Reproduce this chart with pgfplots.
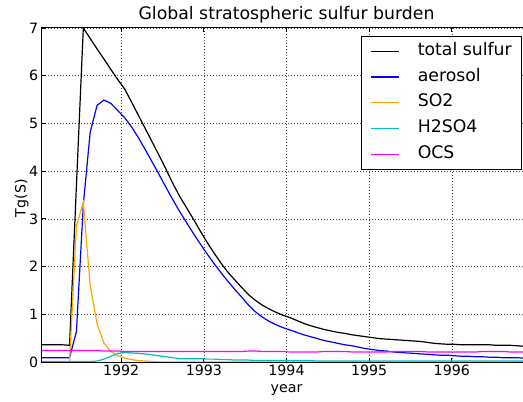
\documentclass[border=0pt]{standalone}
\usepackage{fontspec}
\setmainfont{DejaVu Sans}
\usepackage{pgfplots}
\usepackage{pgfplotstable}
\pgfplotsset{compat=1.18}
\definecolor{mplblue}{rgb}{0,0,1}
\definecolor{mplorange}{RGB}{255,165,0}
\definecolor{mplcyan}{rgb}{0,0.75,0.75}
\definecolor{mplmag}{rgb}{1,0,1}

\pgfplotstableread{
x total aer so2 h2so4 ocs
1991.0417 0.36 0.09 0.00 0.01 0.24
1991.1250 0.36 0.09 0.00 0.01 0.24
1991.2083 0.36 0.09 0.00 0.01 0.24
1991.2917 0.36 0.09 0.00 0.01 0.24
1991.3750 0.35 0.09 0.00 0.01 0.24
1991.4583 3.70 0.64 2.85 0.01 0.24
1991.5417 7.00 3.30 3.35 0.01 0.24
1991.6250 6.78 4.82 1.60 0.01 0.24
1991.7083 6.56 5.38 0.80 0.02 0.24
1991.7917 6.35 5.49 0.40 0.06 0.23
1991.8750 6.13 5.42 0.22 0.12 0.23
1991.9583 5.92 5.27 0.13 0.18 0.23
1992.0417 5.72 5.12 0.08 0.20 0.22
1992.1250 5.45 4.93 0.05 0.19 0.22
1992.2083 5.17 4.70 0.03 0.18 0.22
1992.2917 4.89 4.45 0.02 0.17 0.22
1992.3750 4.61 4.19 0.01 0.15 0.22
1992.4583 4.33 3.93 0.00 0.13 0.22
1992.5417 4.04 3.66 0.00 0.11 0.22
1992.6250 3.74 3.40 0.00 0.09 0.22
1992.7083 3.47 3.15 0.00 0.07 0.22
1992.7917 3.23 2.92 0.00 0.07 0.22
1992.8750 2.99 2.69 0.00 0.07 0.22
1992.9583 2.74 2.47 0.00 0.07 0.22
1993.0417 2.50 2.26 0.00 0.06 0.22
1993.1250 2.28 2.06 0.00 0.06 0.22
1993.2083 2.07 1.87 0.00 0.05 0.22
1993.2917 1.88 1.69 0.00 0.05 0.22
1993.3750 1.72 1.52 0.00 0.04 0.22
1993.4583 1.56 1.36 0.00 0.04 0.22
1993.5417 1.41 1.19 0.00 0.04 0.23
1993.6250 1.29 1.05 0.00 0.03 0.23
1993.7083 1.19 0.94 0.00 0.03 0.22
1993.7917 1.11 0.85 0.00 0.03 0.22
1993.8750 1.04 0.78 0.00 0.03 0.22
1993.9583 0.98 0.72 0.00 0.03 0.22
1994.0417 0.93 0.67 0.00 0.03 0.21
1994.1250 0.87 0.62 0.00 0.03 0.21
1994.2083 0.81 0.57 0.00 0.03 0.21
1994.2917 0.76 0.53 0.00 0.03 0.21
1994.3750 0.72 0.49 0.00 0.02 0.21
1994.4583 0.68 0.45 0.00 0.02 0.22
1994.5417 0.65 0.42 0.00 0.02 0.22
1994.6250 0.62 0.39 0.00 0.02 0.22
1994.7083 0.60 0.36 0.00 0.02 0.22
1994.7917 0.57 0.34 0.00 0.02 0.21
1994.8750 0.55 0.31 0.00 0.02 0.21
1994.9583 0.53 0.28 0.00 0.02 0.21
1995.0417 0.51 0.26 0.00 0.02 0.21
1995.1250 0.49 0.24 0.00 0.02 0.21
1995.2083 0.48 0.23 0.00 0.02 0.21
1995.2917 0.47 0.21 0.00 0.02 0.22
1995.3750 0.46 0.20 0.00 0.02 0.22
1995.4583 0.45 0.19 0.00 0.02 0.22
1995.5417 0.44 0.18 0.00 0.02 0.22
1995.6250 0.43 0.17 0.00 0.02 0.22
1995.7083 0.41 0.16 0.00 0.02 0.21
1995.7917 0.39 0.15 0.00 0.02 0.21
1995.8750 0.38 0.14 0.00 0.02 0.21
1995.9583 0.37 0.14 0.00 0.02 0.21
1996.0417 0.37 0.13 0.00 0.02 0.21
1996.1250 0.36 0.12 0.00 0.02 0.21
1996.2083 0.36 0.12 0.00 0.02 0.21
1996.2917 0.36 0.11 0.00 0.02 0.21
1996.3750 0.36 0.11 0.00 0.02 0.22
1996.4583 0.36 0.10 0.00 0.02 0.22
1996.5417 0.35 0.10 0.00 0.02 0.22
1996.6250 0.35 0.09 0.00 0.02 0.22
1996.7083 0.35 0.09 0.00 0.02 0.21
1996.7917 0.34 0.09 0.00 0.02 0.21
1996.8750 0.33 0.08 0.00 0.02 0.21
1996.9583 0.32 0.08 0.00 0.02 0.21
}\datatable

\begin{document}
\begin{tikzpicture}
\begin{axis}[
  name=ax,
  scale only axis,
  width=489bp, height=334bp,
  xmin=1991.0417, xmax=1996.9583,
  ymin=0, ymax=7,
  xtick={1992,1993,1994,1995,1996},
  ytick={0,1,2,3,4,5,6,7},
  /pgf/number format/.cd, 1000 sep={}, assume math mode=true, /pgfplots/.cd,
  tick align=inside,
  major tick length=4bp,
  tick style={black, line width=0.8bp},
  axis line style={black, line width=1bp},
  grid=major,
  major grid style={black!75, line width=0.6bp, dash pattern=on 1bp off 2bp},
  tick label style={font=\fontsize{14.2bp}{17bp}\selectfont, inner sep=0pt},
  xticklabel style={yshift=-3bp},
  yticklabel style={xshift=-3.7bp},
  title={Global stratospheric sulfur burden},
  title style={at={(axis description cs:0.5,1)}, anchor=base, yshift=3bp, inner sep=0pt, font=\fontsize{17.3bp}{20bp}\selectfont},
  xlabel={year},
  xlabel style={at={(axis description cs:0.5,-0.0928)}, anchor=base, inner sep=0pt, font=\fontsize{14.2bp}{17bp}\selectfont},
  ylabel={Tg(S)},
  ylabel style={at={(axis description cs:-0.0337,0.49)}, anchor=base, rotate=0, inner sep=0pt, font=\fontsize{14.2bp}{17bp}\selectfont},
  legend cell align=left,
  legend image code/.code={\draw[#1] (0bp,0bp) -- (28bp,0bp);},
  legend style={at={(axis description cs:1,1)}, anchor=north east, xshift=-10bp, yshift=-8bp,
    draw=black, fill=white, inner xsep=9bp, inner ysep=6.75bp,
    row sep=9bp, font=\fontsize{17.3bp}{20bp}\selectfont,
    /tikz/every odd column/.append style={column sep=18bp},
    nodes={inner sep=0pt, text height=12.6bp, text depth=4.1bp}},
]
\addlegendimage{color=black, line width=1.2bp}
\addlegendentry{total sulfur}
\addlegendimage{color=mplblue, line width=1.2bp}
\addlegendentry{aerosol}
\addlegendimage{color=mplorange, line width=1.2bp}
\addlegendentry{SO2}
\addlegendimage{color=mplcyan, line width=1.2bp}
\addlegendentry{H2SO4}
\addlegendimage{color=mplmag, line width=1.2bp}
\addlegendentry{OCS}
\addplot[color=black, line width=1.2bp, forget plot] table[x=x, y=total]{\datatable};
\addplot[color=mplblue, line width=1.2bp, forget plot] table[x=x, y=aer]{\datatable};
\addplot[color=mplorange, line width=1.2bp, forget plot] table[x=x, y=so2]{\datatable};
\addplot[color=mplcyan, line width=1.2bp, forget plot] table[x=x, y=h2so4]{\datatable};
\addplot[color=mplmag, line width=1.2bp, forget plot] table[x=x, y=ocs]{\datatable};
\end{axis}
\pgfresetboundingbox
\path[use as bounding box] ([xshift=-42bp,yshift=-40bp]ax.south west) rectangle ++(523bp,402bp);
\end{tikzpicture}
\end{document}
